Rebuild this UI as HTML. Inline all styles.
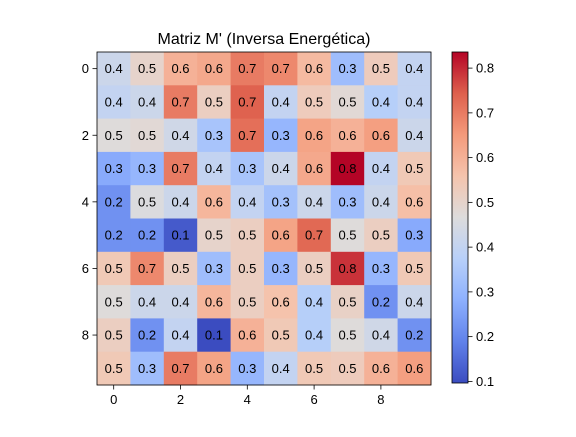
<!DOCTYPE html>
<html><head><meta charset="utf-8"><style>
body{margin:0;background:#fff}
svg text{font-family:"Liberation Sans","DejaVu Sans",sans-serif}
</style></head><body>
<svg id="c" width="576" height="432" xmlns="http://www.w3.org/2000/svg">
<text x="264" y="44" font-size="16" text-anchor="middle">Matriz M' (Inversa Energética)</text>
<g id="cells"></g>
<g id="axes"></g>
</svg>
<script>
const rowLabels=[0,1,2,3,4,5,6,7,8,9];
const colLabels=[0,1,2,3,4,5,6,7,8,9];
const xTicks=[0,2,4,6,8];
const yTicks=[0,2,4,6,8];
const cbTicks=[0.1,0.2,0.3,0.4,0.5,0.6,0.7,0.8];
const row0=[0.42,0.50,0.60,0.62,0.70,0.68,0.58,0.32,0.53,0.40];
const row1=[0.40,0.42,0.70,0.52,0.74,0.40,0.53,0.48,0.37,0.40];
const row2=[0.47,0.48,0.43,0.34,0.72,0.30,0.63,0.60,0.64,0.42];
const row3=[0.27,0.30,0.70,0.40,0.34,0.42,0.62,0.836,0.40,0.54];
const row4=[0.22,0.46,0.42,0.59,0.40,0.33,0.42,0.32,0.42,0.57];
const row5=[0.22,0.22,0.12,0.50,0.52,0.63,0.73,0.47,0.52,0.27];
const row6=[0.54,0.68,0.52,0.32,0.52,0.30,0.52,0.79,0.30,0.54];
const row7=[0.47,0.42,0.42,0.59,0.52,0.56,0.37,0.51,0.22,0.42];
const row8=[0.52,0.22,0.40,0.0964,0.60,0.54,0.37,0.47,0.43,0.22];
const row9=[0.54,0.32,0.70,0.63,0.30,0.40,0.54,0.53,0.60,0.64];
const values=[row0,row1,row2,row3,row4,row5,row6,row7,row8,row9];
const vmin=0.0964,vmax=0.836;
const NS="http://www.w3.org/2000/svg";
const ax={x0:97,y0:52,w:334,h:333};
const cw=ax.w/colLabels.length,ch=ax.h/rowLabels.length;
const xs=c=>ax.x0+c*cw, ys=r=>ax.y0+r*ch;
const cb={x:452,y0:52,y1:383,w:16};
const cbY=v=>cb.y1-(v-vmin)/(vmax-vmin)*(cb.y1-cb.y0);
const cm=[[0,59,76,192],[0.125,97,130,234],[0.25,141,176,254],[0.375,184,208,249],[0.5,221,220,220],[0.625,245,196,173],[0.75,244,154,123],[0.875,222,96,77],[1,180,4,38]];
function color(v){let t=Math.max(0,Math.min(1,(v-vmin)/(vmax-vmin)));for(let i=0;i<cm.length-1;i++){const a=cm[i],b=cm[i+1];if(t<=b[0]){const f=(t-a[0])/(b[0]-a[0]);return `rgb(${[1,2,3].map(k=>Math.round(a[k]+f*(b[k]-a[k]))).join(',')})`;}}return 'rgb(180,4,38)';}
function mk(tag,attrs,p){const e=document.createElementNS(NS,tag);for(const k in attrs)e.setAttribute(k,attrs[k]);p.appendChild(e);return e;}
const cells=document.getElementById('cells'),axes=document.getElementById('axes');
values.forEach((row,r)=>row.forEach((v,c)=>{
 const rc=mk('rect',{x:xs(c),y:ys(r),width:cw+0.5,height:ch+0.5,fill:color(v)},cells);
 
 
 const t=mk('text',{x:xs(c)+cw/2,y:ys(r)+ch/2+4.5,'font-size':13,'text-anchor':'middle'},cells);
 
 
 t.textContent=v.toFixed(1);
}));
const fr=mk('rect',{x:ax.x0,y:ax.y0,width:ax.w,height:ax.h,fill:'none',stroke:'#000','stroke-width':0.8},axes);


xTicks.forEach(i=>{const x=xs(i)+cw/2;mk('line',{x1:x,x2:x,y1:ax.y0+ax.h,y2:ax.y0+ax.h+4.5,stroke:'#000','stroke-width':0.8},axes);
 const t=mk('text',{x:x,y:ax.y0+ax.h+19,'font-size':13,'text-anchor':'middle'},axes);
 
 
 t.textContent=colLabels[i];});
yTicks.forEach(i=>{const y=ys(i)+ch/2;mk('line',{x1:ax.x0-4.5,x2:ax.x0,y1:y,y2:y,stroke:'#000','stroke-width':0.8},axes);
 const t=mk('text',{x:ax.x0-8,y:y+4.5,'font-size':13,'text-anchor':'end'},axes);
 
 
 t.textContent=rowLabels[i];});
const defs=mk('defs',{},axes);const g=mk('linearGradient',{id:'cbg',x1:0,y1:1,x2:0,y2:0},defs);
cm.forEach(s=>mk('stop',{offset:s[0],'stop-color':`rgb(${s[1]},${s[2]},${s[3]})`},g));
const cbr=mk('rect',{x:cb.x,y:cb.y0,width:cb.w,height:cb.y1-cb.y0,fill:'url(#cbg)',stroke:'#000','stroke-width':0.8},axes);


cbTicks.forEach(v=>{const y=cbY(v);mk('line',{x1:cb.x+cb.w,x2:cb.x+cb.w+4.5,y1:y,y2:y,stroke:'#000','stroke-width':0.8},axes);
 const t=mk('text',{x:cb.x+cb.w+8,y:y+4.5,'font-size':13},axes);
 
 
 t.textContent=v.toFixed(1);});
</script>
</body></html>
